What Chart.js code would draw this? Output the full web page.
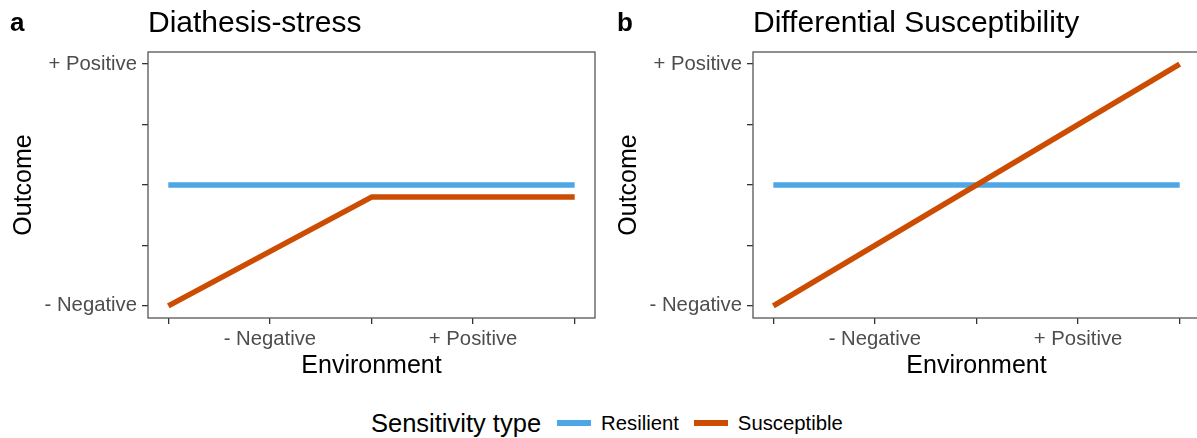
<!DOCTYPE html>
<html>
<head>
<meta charset="utf-8">
<script src="https://cdn.jsdelivr.net/npm/chart.js@4.4.1/dist/chart.umd.min.js"></script>
<style>
  html, body { margin: 0; padding: 0; background: #ffffff; }
  body { width: 1197px; height: 438px; position: relative; overflow: hidden;
         font-family: "Liberation Sans", Arial, Helvetica, sans-serif; }
  .panel { position: absolute; top: 0; height: 382px; }
  .panel canvas { display: block; }
  .tag { position: absolute; top: 6px; font-size: 26px; font-weight: bold; color: #000; line-height: 32px; }
  .ptitle { position: absolute; top: 5px; font-size: 30px; color: #000; line-height: 34px; white-space: nowrap; }
  .legend { position: absolute; top: 407px; left: 371px; height: 32px; display: flex; align-items: center;
            white-space: nowrap; color: #000; }
  .legend .lt { font-size: 25.5px; margin-right: 16px; }
  .legend .sw { width: 34px; height: 6px; margin-right: 10px; }
  .legend .lab { font-size: 20.3px; margin-right: 15px; }
</style>
</head>
<body>
<div class="panel" id="pa" style="left:0px;width:600px;"><canvas id="ca"></canvas></div>
<div class="panel" id="pb" style="left:605px;width:600px;"><canvas id="cb"></canvas></div>

<div class="tag" style="left:10px;">a</div>
<div class="ptitle" style="left:148px;">Diathesis-stress</div>
<div class="tag" style="left:617px;">b</div>
<div class="ptitle" style="left:753px;">Differential Susceptibility</div>

<div class="legend">
  <span class="lt">Sensitivity type</span>
  <span class="sw" style="background:#4DA6E5"></span><span class="lab">Resilient</span>
  <span class="sw" style="background:#CC4C02"></span><span class="lab">Susceptible</span>
</div>

<script>
// Axis breaks and their labels (environment on x, outcome on y)
const envBreaks = [0, 0.25, 0.5, 0.75, 1];
const envLabels = ['', '- Negative', '', '+ Positive', ''];
const outcomeBreaks = [0, 0.25, 0.5, 0.75, 1];
const outcomeLabels = ['- Negative', '', '', '', '+ Positive'];

// Diathesis-stress model
const dsResilientX = [0, 1];
const dsResilientY = [0.5, 0.5];
const dsSusceptibleX = [0, 0.5, 1];
const dsSusceptibleY = [0, 0.45, 0.45];

// Differential susceptibility model
const diffResilientX = [0, 1];
const diffResilientY = [0.5, 0.5];
const diffSusceptibleX = [0, 1];
const diffSusceptibleY = [0, 1];

const seriesNames = ['Resilient', 'Susceptible'];
const seriesColors = { Resilient: '#4DA6E5', Susceptible: '#CC4C02' };

const FONT = '"Liberation Sans", Arial, Helvetica, sans-serif';
const AXIS_GREY = '#333333';
const TEXT_GREY = '#4D4D4D';

function pts(xs, ys) { return xs.map((x, i) => ({ x: x, y: ys[i] })); }

// Full rectangle around the plotting panel
const panelBorder = {
  id: 'panelBorder',
  afterDraw(chart) {
    const a = chart.chartArea, ctx = chart.ctx;
    ctx.save();
    ctx.strokeStyle = '#555555';
    ctx.lineWidth = 1.3;
    ctx.strokeRect(a.left, a.top, a.right - a.left, a.bottom - a.top);
    ctx.restore();
  }
};

function makeChart(canvasId, resX, resY, susX, susY, padRight) {
  const ds = (name, xs, ys, order) => ({
    label: name,
    data: pts(xs, ys),
    showLine: true,
    borderColor: seriesColors[name],
    backgroundColor: seriesColors[name],
    borderWidth: 5.5,
    borderCapStyle: 'butt',
    borderJoinStyle: 'round',
    pointRadius: 0,
    pointHoverRadius: 0,
    tension: 0,
    fill: false,
    order: order
  });
  return new Chart(document.getElementById(canvasId), {
    type: 'scatter',
    data: {
      datasets: [
        ds(seriesNames[0], resX, resY, 2),
        ds(seriesNames[1], susX, susY, 1)
      ]
    },
    plugins: [panelBorder],
    options: {
      responsive: true,
      maintainAspectRatio: false,
      animation: false,
      events: [],
      layout: { padding: { top: 52, right: padRight, bottom: 0, left: 0 } },
      plugins: { legend: { display: false }, tooltip: { enabled: false }, title: { display: false } },
      scales: {
        x: {
          type: 'linear', min: -0.05, max: 1.05,
          afterBuildTicks: s => { s.ticks = envBreaks.map(v => ({ value: v })); },
          afterFit: s => { s.height = 64; },
          grid: { display: true, drawOnChartArea: false, drawTicks: true, tickLength: 6,
                  color: AXIS_GREY, lineWidth: 1.3 },
          border: { display: false },
          ticks: {
            autoSkip: false, maxRotation: 0, padding: 3,
            color: TEXT_GREY, font: { family: FONT, size: 20.3 },
            callback: (v, i) => envLabels[i]
          },
          title: { display: true, text: 'Environment', color: '#000',
                   font: { family: FONT, size: 25 }, padding: { top: 0, bottom: 1 } }
        },
        y: {
          type: 'linear', min: -0.05, max: 1.05,
          afterBuildTicks: s => { s.ticks = outcomeBreaks.map(v => ({ value: v })); },
          afterFit: s => { s.width = 148; },
          grid: { display: true, drawOnChartArea: false, drawTicks: true, tickLength: 6,
                  color: AXIS_GREY, lineWidth: 1.3 },
          border: { display: false },
          ticks: {
            autoSkip: false, padding: 5,
            color: TEXT_GREY, font: { family: FONT, size: 20.3 },
            callback: (v, i) => outcomeLabels[i]
          },
          title: { display: true, text: 'Outcome', color: '#000',
                   font: { family: FONT, size: 25 }, padding: { top: 9, bottom: 0 } }
        }
      }
    }
  });
}

makeChart('ca', dsResilientX, dsResilientY, dsSusceptibleX, dsSusceptibleY, 5);
makeChart('cb', diffResilientX, diffResilientY, diffSusceptibleX, diffSusceptibleY, 5);
</script>
</body>
</html>
